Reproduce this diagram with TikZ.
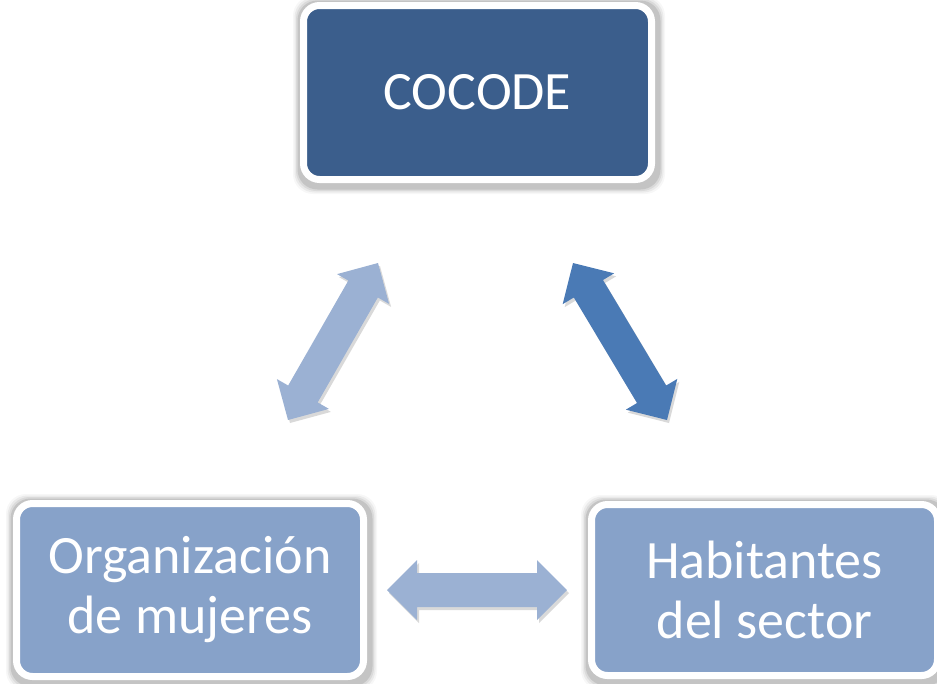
\documentclass[tikz,border=0pt]{standalone}
\usepackage{fontspec}
\setmainfont{Carlito}
\usetikzlibrary{calc,backgrounds}
\definecolor{darkbox}{HTML}{3B5E8C}
\definecolor{lightbox}{HTML}{87A2C9}
\definecolor{lightarrow}{HTML}{9BB1D3}
\definecolor{darkarrow}{HTML}{4A7AB5}
\newcommand\dblarrow[3]{%
  \coordinate (#1#2A) at ($(#1)!30pt!(#2)$);
  \coordinate (#1#2B) at ($(#2)!30pt!(#1)$);
  \path[#3] (#1) -- ($(#1#2A)!30pt!90:(#2)$) -- ($(#1#2A)!17pt!90:(#2)$)
    -- ($(#1#2B)!17pt!-90:(#1)$) -- ($(#1#2B)!30pt!-90:(#1)$) -- (#2)
    -- ($(#1#2B)!30pt!90:(#1)$) -- ($(#1#2B)!17pt!90:(#1)$)
    -- ($(#1#2A)!17pt!-90:(#2)$) -- ($(#1#2A)!30pt!-90:(#2)$) -- cycle;}
\newcommand\boxshade[1]{%
  \foreach \e/\op in {4/0.10,5.5/0.07,7/0.05,8.5/0.03}{%
    \fill[black, opacity=\op, rounded corners=20pt]
      ([shift={(-\e+1.5,-\e+2.5)}]#1.north west) rectangle
      ([shift={(\e+1.5,\e+2.5)}]#1.south east);}}
\begin{document}
\begin{tikzpicture}[x=1pt,y=-1pt,
  box/.style={rounded corners=16pt, draw=white, line width=7pt, text=white,
    font=\fontsize{54}{60}\selectfont, align=center, inner sep=0pt},
  arrowshade/.style={fill=black, opacity=0.15, transform canvas={shift={(2pt,-3pt)}}}]
\useasboundingbox (0,0) rectangle (937,683);
\node[box, fill=darkbox, minimum width=348pt, minimum height=174pt] (cocode) at (477.5,92.5) {COCODE};
\node[box, fill=lightbox, minimum width=347pt, minimum height=173pt] (mujeres) at (190,590) {Organización\\de mujeres};
\node[box, fill=lightbox, minimum width=346pt, minimum height=171pt] (habitantes) at (764.5,590) {Habitantes\\del sector};
\begin{scope}[on background layer]
  \boxshade{cocode}
  \boxshade{mujeres}
  \boxshade{habitantes}
\end{scope}
\coordinate (la1) at (288,420);
\coordinate (la2) at (378,263);
\coordinate (ra1) at (573,263);
\coordinate (ra2) at (667,420);
\coordinate (ha1) at (387,590);
\coordinate (ha2) at (567,590);
\dblarrow{la1}{la2}{arrowshade}
\dblarrow{la1}{la2}{fill=lightarrow}
\dblarrow{ra1}{ra2}{arrowshade}
\dblarrow{ra1}{ra2}{fill=darkarrow}
\dblarrow{ha1}{ha2}{arrowshade}
\dblarrow{ha1}{ha2}{fill=lightarrow}
\end{tikzpicture}
\end{document}
